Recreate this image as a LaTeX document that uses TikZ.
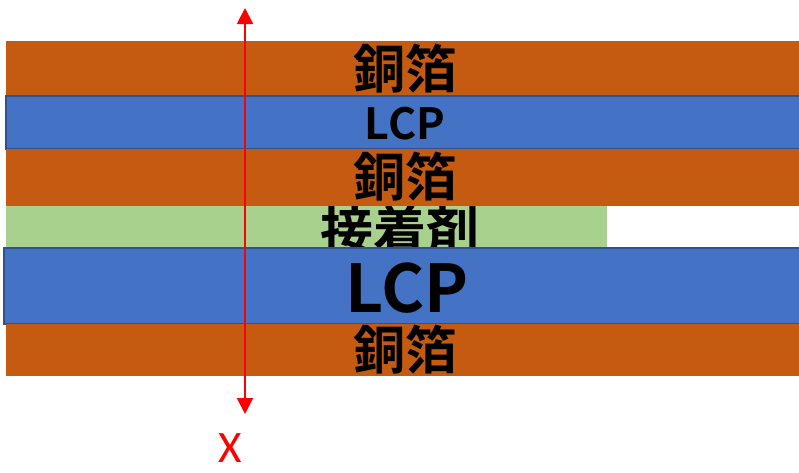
\documentclass[tikz,border=0pt]{standalone}
\usepackage{fontspec}
\newfontfamily\jpb{Noto Sans CJK JP Bold}
\newfontfamily\calib{Carlito}
\usetikzlibrary{arrows.meta}
\definecolor{copper}{HTML}{C55A11}
\definecolor{lcpblue}{HTML}{4472C4}
\definecolor{lcpedge}{HTML}{2F528F}
\definecolor{adhgreen}{HTML}{A9D18E}
\definecolor{arrred}{HTML}{FF0000}
\tikzset{
  copperlayer/.style={fill=copper},
  lcplayer/.style={fill=lcpblue,draw=lcpedge,line width=1.2pt},
  adhlayer/.style={fill=adhgreen},
  lbl/.style={inner sep=0pt,font=\jpb,text=black},
  axisarrow/.style={draw=arrred,line width=2pt,{Triangle[length=16pt,width=16pt]}-{Triangle[length=16pt,width=16pt]}}
}
\begin{document}
\begin{tikzpicture}[x=1pt,y=-1pt]
\useasboundingbox (0,0) rectangle (799,472);
% layers
\fill[copperlayer] (6,41) rectangle (799,96);
\path[lcplayer] (6,96) rectangle (800,149);
\fill[adhlayer] (6,206) rectangle (607,248);
\node[lbl,font=\jpb\fontsize{53}{53}\selectfont] (adh) at (400,230) {接着剤};
\fill[copperlayer] (6,149) rectangle (799,206);
\path[lcplayer] (4,248) rectangle (800,324);
\fill[copperlayer] (6,324) rectangle (799,376);
% labels
\node[lbl,font=\jpb\fontsize{52}{52}\selectfont] (cu1) at (405,69) {銅箔};
\node[lbl,font=\jpb\fontsize{43}{43}\selectfont] (lcp1) at (405,124) {LCP};
\node[lbl,font=\jpb\fontsize{52}{52}\selectfont] (cu2) at (405,177) {銅箔};
\node[lbl,font=\jpb\fontsize{66}{66}\selectfont] (lcp2) at (407,288) {LCP};
\node[lbl,font=\jpb\fontsize{52}{52}\selectfont] (cu3) at (405,350) {銅箔};
% axis
\coordinate (top) at (245,8);
\coordinate (bot) at (245,414);
\draw[axisarrow] (bot) -- (top);
\node[inner sep=0pt,font=\calib\fontsize{45}{45}\selectfont,text=arrred] (xl) at (230,448) {X};
\end{tikzpicture}
\end{document}
